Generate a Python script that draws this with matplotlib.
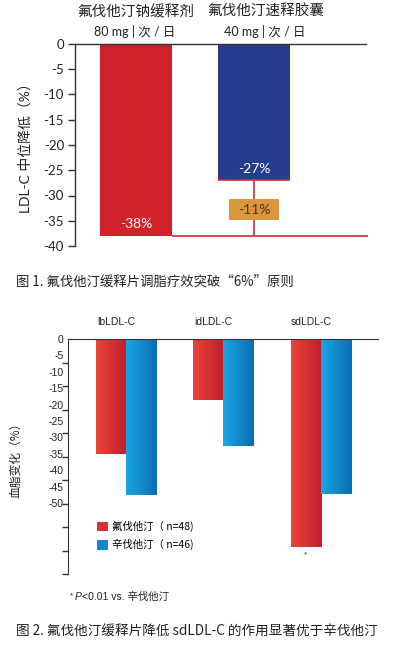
import numpy as np
import matplotlib
matplotlib.use("Agg")
import matplotlib.pyplot as plt
from matplotlib.patches import Rectangle, Patch
from matplotlib.colors import LinearSegmentedColormap
from matplotlib.transforms import blended_transform_factory

plt.rcParams['axes.unicode_minus'] = False

# ---------------- data ----------------
c1_groups = ['氟伐他汀钠缓释剂', '氟伐他汀速释胶囊']
c1_doses = ['80 mg | 次 / 日', '40 mg | 次 / 日']
c1_values = [-38, -27]
c1_ticks = [0, -5, -10, -15, -20, -25, -30, -35, -40]
c1_ylabel = 'LDL-C 中位降低（%）'
c1_caption = '图 1. 氟伐他汀缓释片调脂疗效突破“6%”原则'

c2_categories = ['lbLDL-C', 'idLDL-C', 'sdLDL-C']
c2_flu = [-35, -18.6, -63.4]
c2_sim = [-47.6, -32.6, -47.3]
c2_series = ['氟伐他汀（ n=48)', '辛伐他汀（ n=46)']
c2_ticklabels = [0, -5, -10, -15, -20, -25, -30, -35, -40, -45, -50]
c2_ylabel = '血脂变化（%）'
c2_footnote_sig = '*'
c2_caption = '图 2. 氟伐他汀缓释片降低 sdLDL-C 的作用显著优于辛伐他汀'

W, H = 396, 646
fig = plt.figure(figsize=(W / 100, H / 100), dpi=100)

def rect(l, t, r, b):
    return [l / W, 1 - b / H, (r - l) / W, (b - t) / H]

F1 = ['Lato', 'Noto Sans CJK SC']
F2 = ['Liberation Sans', 'Noto Sans CJK SC']
FC = ['Noto Sans CJK SC', 'DejaVu Sans']

RED1 = '#d0222b'
BLUE1 = '#243d8c'
LINE_RED = '#cc2a3a'
ORANGE = '#da973e'
AXC = '#333333'

# ---------------- chart 1 ----------------
ax1 = fig.add_axes(rect(75, 44, 366, 246))
x1 = np.arange(len(c1_values))
bw = 0.61
ax1.bar(x1, c1_values, width=bw, color=[RED1, BLUE1], zorder=2)
ax1.set_xlim(-0.517, 1.949)
ax1.set_ylim(-40, 0)
ax1.set_yticks(c1_ticks)
ax1.set_yticklabels([str(t) for t in c1_ticks], family=F1, fontsize=9.5, color='#222222')
ax1.set_xticks([])
for s in ['right', 'bottom']:
    ax1.spines[s].set_visible(False)
ax1.spines['left'].set_color(AXC)
ax1.spines['top'].set_color(AXC)
ax1.spines['left'].set_linewidth(1.0)
ax1.spines['top'].set_linewidth(1.0)
ax1.tick_params(axis='y', direction='out', length=5, width=1.0, color=AXC, pad=3)

# bar value labels
for i, v in enumerate(c1_values):
    ax1.text(x1[i], v + 2.3, f'{v}%', ha='center', va='center', color='white',
             family=F1, fontsize=10, zorder=4)

# difference lines
ax1.hlines(c1_values[0], x1[0] + bw / 2, 1.965, color=LINE_RED, lw=1.2, zorder=3, clip_on=False)
ax1.hlines(c1_values[1], x1[1] - bw / 2, x1[1] + bw / 2, color=LINE_RED, lw=1.2, zorder=3)
ax1.vlines(x1[1], c1_values[0], c1_values[1], color=LINE_RED, lw=1.2, zorder=3)
diff = c1_values[0] - c1_values[1]
ymid = (c1_values[0] + c1_values[1]) / 2 - 0.3
ax1.add_patch(Rectangle((x1[1] - 0.21, ymid - 2.1), 0.42, 4.2, facecolor=ORANGE,
                        edgecolor='none', zorder=4))
ax1.text(x1[1], ymid, f'{diff}%', ha='center', va='center', color='#4a3520',
         family=F1, fontsize=10, zorder=5)

# titles above chart 1
tr1 = blended_transform_factory(ax1.transData, fig.transFigure)
title_x = [0, 1.1]
for i in range(2):
    ax1.text(title_x[i], 1 - 12 / H, c1_groups[i], transform=tr1, ha='center', va='center',
             family=FC, fontsize=10.5, color='#222222')
    ax1.text(title_x[i] - 0.01, 1 - 31 / H, c1_doses[i], transform=tr1, ha='center', va='center',
             family=F1 + ['DejaVu Sans'], fontsize=9, color='#222222')

fig.text(25 / W, 1 - 145 / H, c1_ylabel, rotation=90, ha='center', va='center',
         family=F1, fontsize=10, color='#222222')
fig.text(16 / W, 1 - 282 / H, c1_caption, ha='left', va='center', family=FC,
         fontsize=9.6, color='#222222')

# ---------------- chart 2 ----------------
ax2 = fig.add_axes(rect(68, 339, 378, 574))
x2 = np.arange(len(c2_categories))
bw2 = 0.31
cmap_red = LinearSegmentedColormap.from_list('r', ['#ea423c', '#c01f2c'])
cmap_blue = LinearSegmentedColormap.from_list('b', ['#1ba6e2', '#0a6db4'])
bars_r = ax2.bar(x2 - bw2 / 2, c2_flu, width=bw2, color='none', zorder=2)
bars_b = ax2.bar(x2 + bw2 / 2, c2_sim, width=bw2, color='none', zorder=2)
grad = np.linspace(0, 1, 64).reshape(1, -1)
for bars, cm in [(bars_r, cmap_red), (bars_b, cmap_blue)]:
    for b in bars:
        x0, y0 = b.get_x(), b.get_y()
        w, h = b.get_width(), b.get_height()
        im = ax2.imshow(grad, extent=[x0, x0 + w, y0 + h, y0], aspect='auto', cmap=cm,
                        zorder=2, interpolation='bilinear')
        im.set_clip_path(b)

ax2.set_xlim(-0.595, 2.585)
ax2.set_ylim(-71.6, 0)
ax2.set_aspect('auto')
ax2.set_xticks([])
ax2.set_yticks(c2_ticklabels)
ax2.set_yticklabels([str(t) for t in c2_ticklabels], family=F2, fontsize=7.5, color='#222222')
ax2.tick_params(axis='y', which='major', length=0, pad=3)
ax2.set_yticks(np.arange(0, -72, -7.16), minor=True)
ax2.tick_params(axis='y', which='minor', direction='out', length=4, width=1.0, color=AXC)
for s in ['right', 'bottom']:
    ax2.spines[s].set_visible(False)
ax2.spines['left'].set_color(AXC)
ax2.spines['top'].set_color(AXC)

tr2 = blended_transform_factory(ax2.transData, fig.transFigure)
for i, c in enumerate(c2_categories):
    ax2.text(x2[i] - 0.1, 1 - 322 / H, c, transform=tr2, ha='center', va='center',
             family=F2, fontsize=7.5, color='#222222')

# significance marker
ax2.text(x2[2] - bw2 / 2, c2_flu[2] - 2.5, c2_footnote_sig, ha='center', va='center',
         family=F2, fontsize=6, color='#333333')

handles = [Patch(facecolor='#d8303a'), Patch(facecolor='#1188cc')]
ax2.legend(handles, c2_series, loc='upper left', bbox_to_anchor=(0.094, 0.225),
           frameon=False, borderpad=0, borderaxespad=0, handlelength=1.05,
           handleheight=1.05, handletextpad=0.4, labelspacing=0.65,
           prop={'family': FC, 'size': 7.5})

fig.text(16 / W, 1 - 457 / H, c2_ylabel, rotation=90, ha='center', va='center',
         family=FC, fontsize=8.5, color='#222222')

# footnote
fig.text(70 / W, 1 - 596 / H, '*', ha='left', va='center', family=F2, fontsize=6,
         color='#222222')
pt = fig.text(75 / W, 1 - 597 / H, 'P', ha='left', va='center', family=F2,
              style='italic', fontsize=7.5, color='#222222')
ax2.annotate('<0.01 vs. 辛伐他汀', xy=(1, 0.5), xycoords=pt, ha='left', va='center',
             family=F2, fontsize=7.5, color='#222222', annotation_clip=False)

fig.text(16 / W, 1 - 631 / H, c2_caption, ha='left', va='center', family=FC,
         fontsize=9.8, color='#222222')

fig.savefig('out.png', dpi=100)
